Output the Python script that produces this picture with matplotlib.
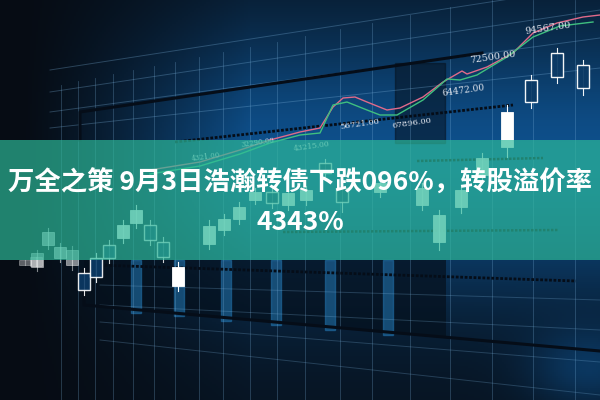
import numpy as np
import matplotlib.pyplot as plt
from matplotlib.patches import Rectangle, Polygon

plt.rcParams['font.family'] = ['Noto Sans CJK SC', 'DejaVu Sans']

# headline text
title_line1 = '万全之策 9月3日浩瀚转债下跌096%，转股溢价率'
title_line2 = '4343%'

# candles (picture coords, y grows downward): x, body top, body bottom, wick top, wick bottom, hollow?
candle_x      = [25, 36, 37, 48, 60, 72, 84, 96, 109, 123, 136, 150, 163, 178, 209, 224, 239, 255, 272, 288, 306, 325, 342, 380, 422, 439, 461, 482, 507, 531, 557, 583]
candle_top    = [260, 257, 253, 232, 247, 250, 273, 258, 245, 225, 210, 225, 242, 267, 226, 219, 207, 192, 192, 193, 190, 163, 188, 183, 188, 215, 190, 158, 112, 80, 53, 65]
candle_bot    = [265, 266, 267, 245, 258, 265, 290, 277, 258, 238, 223, 240, 257, 286, 244, 230, 219, 200, 203, 205, 200, 173, 202, 192, 205, 242, 207, 175, 147, 102, 77, 88]
candle_hi     = [260, 257, 250, 228, 243, 246, 268, 253, 240, 220, 205, 220, 237, 262, 220, 214, 202, 188, 187, 189, 186, 159, 183, 179, 183, 210, 185, 153, 105, 75, 48, 60]
candle_lo     = [265, 266, 271, 249, 262, 270, 295, 282, 263, 243, 228, 245, 262, 291, 249, 235, 224, 204, 208, 210, 205, 178, 212, 197, 210, 250, 213, 180, 157, 108, 83, 95]
candle_hollow = [0, 0, 0, 0, 0, 0, 1, 1, 1, 0, 0, 1, 1, 0, 0, 0, 0, 0, 1, 0, 0, 1, 1, 0, 0, 0, 0, 0, 0, 1, 1, 1]
candle_alpha  = [0.35, 0.35, 0.5, 0.6, 0.6, 0.5, 0.9, 0.9, 0.8, 0.9, 0.9, 0.8, 0.8, 1.0, 0.9, 0.9, 0.9, 0.9, 0.8, 0.9, 0.9, 0.8, 0.8, 0.9, 0.9, 0.9, 0.9, 0.9, 1.0, 0.95, 0.95, 0.95]

# moving average lines
ma_red_x = [150, 200, 240, 270, 300, 320, 333, 343, 355, 367, 387, 400, 423, 443, 462, 467, 487, 513, 533, 557, 583, 600]
ma_red_y = [170, 162, 150, 140, 132, 128, 107, 98, 97, 102, 110, 108, 97, 82, 71, 74, 67, 53, 33, 23, 17, 15]
ma_grn_x = [150, 200, 240, 270, 300, 320, 333, 347, 367, 380, 397, 423, 447, 460, 477, 507, 533, 560, 593]
ma_grn_y = [174, 166, 154, 143, 135, 133, 105, 102, 110, 115, 115, 100, 79, 80, 75, 57, 37, 26, 22]

# price labels
price_labels = ['94567.00', '72500.00', '64472.00', '56721.00', '67896.00', '43215.00', '32290.00', '4321.00']
price_x = [548, 493, 463, 360, 412, 312, 258, 206]
price_y = [28, 57, 91, 124, 123, 146, 143, 157]
price_size = [7, 7, 6.5, 6, 6, 5.5, 5, 5]

# grid
vgrid_x = [61, 78, 95, 113, 133, 154, 175, 199, 223, 250, 277, 305, 340, 372, 410, 450, 492, 533, 575]
up_left_y = [70, 92, 112, 128]
up_right_y = [-15, 10, 38, 68]
lo_left_y = [285, 305, 322, 340]
lo_right_y = [300, 330, 362, 395]

fig = plt.figure(figsize=(6, 4), dpi=100)
ax = fig.add_axes([0, 0, 1, 1])
ax.set_xlim(0, 600)
ax.set_ylim(400, 0)
ax.axis('off')

# background gradient
xx, yy = np.meshgrid(np.linspace(0, 600, 300), np.linspace(0, 400, 200))
fx = np.clip((xx - 20) / 230, 0, 1) ** 1.3
fy = np.exp(-((yy - 160) / 135) ** 2) * 0.9 + 0.1
glow = 0.45 * np.exp(-(((xx - 590) / 60) ** 2 + ((yy - 370) / 40) ** 2))
inten = np.clip(fx * fy + glow, 0, 1)
base = np.array([14, 80, 140]) / 255
dark = np.array([6, 12, 20]) / 255
img = dark[None, None, :] * (1 - inten[..., None]) + base[None, None, :] * inten[..., None]
ax.imshow(img, extent=[0, 600, 400, 0], aspect='auto', zorder=0)

# dark shadow columns
ax.add_patch(Rectangle((395, 63), 50, 80, color='#06121f', alpha=0.55, zorder=1))
ax.add_patch(Polygon([(84, 260), (446, 260), (446, 337), (84, 305)], closed=True,
                     color='#05101c', alpha=0.7, zorder=1, lw=0))
for sx in [136, 179, 226, 276, 330, 388]:
    ax.add_patch(Rectangle((sx - 5, 260), 10, 48 + (sx - 84) * 0.089, color='#1f6aa0', alpha=0.65, zorder=1))

# grid lines
for gx in vgrid_x:
    top = max(0, 85 - 0.2 * (gx - 60))
    ax.plot([gx, gx], [top, 400], color='#7fb6e0', lw=0.6, alpha=0.3, zorder=1)
for a, b in zip(up_left_y, up_right_y):
    ax.plot([50, 600], [a, b], color='#7fb6e0', lw=0.7, alpha=0.3, zorder=1)
for a, b in zip(lo_left_y, lo_right_y):
    ax.plot([100, 600], [a, b], color='#7fb6e0', lw=0.7, alpha=0.25, zorder=1)

# thick dark trend lines
ax.plot([80, 80, 482], [140, 112, 53], color='#050d18', lw=2.2, zorder=2)
ax.plot([84, 84, 600], [270, 305, 351], color='#050d18', lw=2.2, zorder=2)
ax.plot([175, 513], [142, 105], color='#050d18', lw=2.0, ls=(0, (1, 0.6)), zorder=2)
ax.plot([96, 576], [265, 281], color='#050d18', lw=2.0, ls=(0, (1, 0.6)), zorder=2)
ax.plot([417, 543], [161, 158], color='#050d18', lw=1.8, ls=(0, (1, 0.6)), zorder=2)
ax.plot([283, 559], [232, 230], color='#050d18', lw=1.8, ls=(0, (1, 0.6)), zorder=2)

# MA lines
ax.plot(ma_red_x, ma_red_y, color='#e06a8a', lw=1.0, zorder=3)
ax.plot(ma_grn_x, ma_grn_y, color='#3fbf7f', lw=1.0, zorder=3)

# candles
for x, t, b, h, l, hol, al in zip(candle_x, candle_top, candle_bot, candle_hi, candle_lo, candle_hollow, candle_alpha):
    ax.plot([x, x], [h, l], color='white', lw=0.8, alpha=al, zorder=4)
    if hol:
        ax.add_patch(Rectangle((x - 6, t), 12, b - t, facecolor='#0b3a66', edgecolor='white', lw=1.0, alpha=al, zorder=5))
    else:
        ax.add_patch(Rectangle((x - 6, t), 12, b - t, facecolor='white', edgecolor='white', lw=0.6, alpha=al, zorder=5))

# price labels
for s, x, y, fs in zip(price_labels, price_x, price_y, price_size):
    ax.text(x, y, s, color='#e2e6ee', fontsize=fs, family='DejaVu Serif', ha='center', va='center', rotation=8, zorder=4)

# teal banner
ax.add_patch(Rectangle((0, 140), 600, 120, color='#2dbb9a', alpha=0.68, zorder=6, lw=0))

ax.text(300, 183, title_line1, color='white', fontsize=19, fontweight='bold', ha='center', va='center', zorder=7)
ax.text(300, 222, title_line2, color='white', fontsize=19, fontweight='bold', ha='center', va='center', zorder=7)

fig.savefig('out.png', dpi=100)
